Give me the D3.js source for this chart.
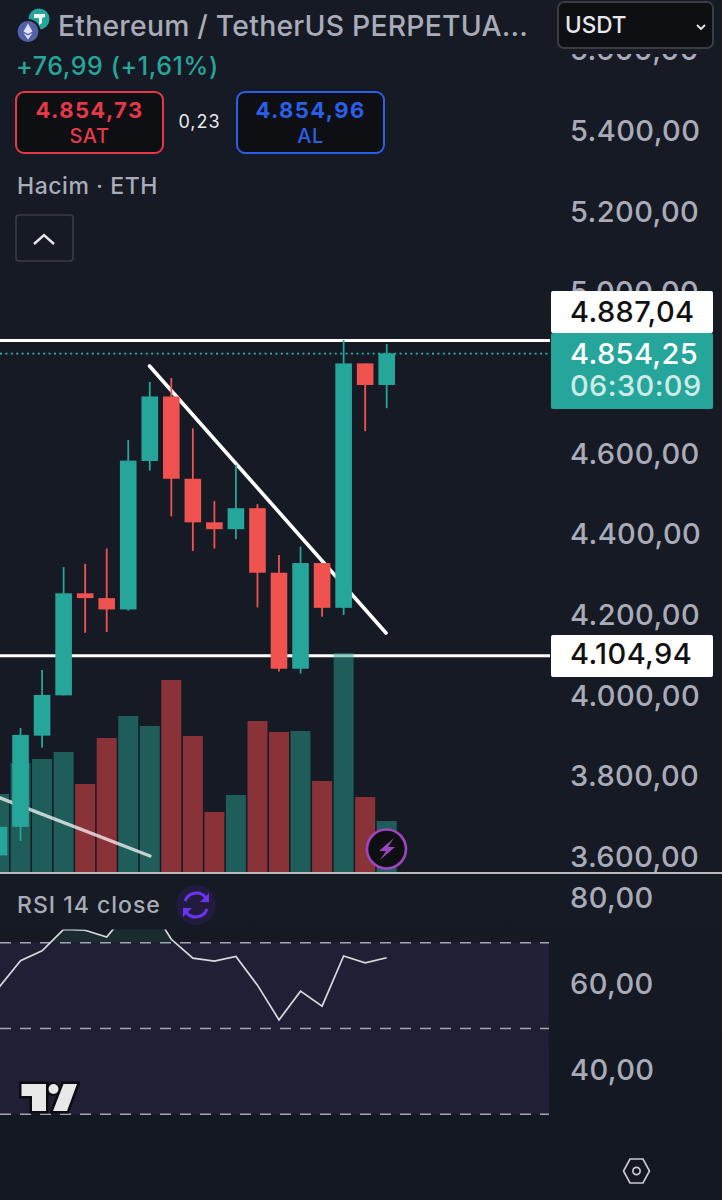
<!DOCTYPE html>
<html><head><meta charset="utf-8">
<script src="https://cdn.jsdelivr.net/npm/d3@7"></script>
<style>
html,body{margin:0;padding:0;background:#161a25}
svg{display:block;font-family:Inter,Roboto,sans-serif}
.ax{font-size:29px;font-weight:500;letter-spacing:0.4px}
</style></head><body><svg id="c" width="722" height="1200"></svg>
<script>
const opens  =[3610,3681,3907,4007,4260,4248,4220,4588,4748,4544,4436,4419,4471,4311,4073,4335,4224,4830,4776.5];
const closes =[3681,3909,4008,4260,4248,4220,4589,4748,4544,4436,4419,4471,4311,4073,4335,4224,4830,4776.5,4855];
const highs  =[3690,3926,4070,4325,4333,4371,4640,4784,4794,4669,4489,4578,4481,4355,4375.5,4335,4888,4830,4878];
const lows   =[3600,3646,3877,4007,4162,4164,4217,4564,4451,4365,4371,4394,4225,4066,4061,4202,4206,4662,4719];
const volumes=[78,109,113,120,88,134,156,146,192,136,60,77,151,140,141,91,219,75,51];
const rsi    =[59.6,65.8,68.1,73.1,72.9,71.3,77.4,78.8,70.8,66.4,65.7,66.8,60.1,52,58.7,55.2,66.9,65.3,66.5];
const priceTicks=[5600,5400,5200,5000,4600,4400,4200,4000,3800,3600];
const rsiTicks=[80,60,40];
const rsiLevels=[70,50,30];
const levelLines=[4887.04,4104.94];
const lastPrice=4854.25;
const fmt=d3.formatLocale({decimal:",",thousands:".",grouping:[3],currency:["",""]}).format(",.2f");

const svg=d3.select("#c");
const UP="#26a69a",DOWN="#f0534f",AXC="#a9acb8";
const x=d3.scaleLinear().domain([0,18]).range([-1,386.7]);
const y=d3.scaleLinear().domain([5400,3600]).range([133.5,859.5]);
const v=d3.scaleLinear().domain([0,219]).range([872,653]);
const r=d3.scaleLinear().domain([70,30]).range([942.7,1114.3]);
const idx=d3.range(opens.length);

svg.append("rect").attr("width",722).attr("height",1200).attr("fill","#161a25");
const g0=svg.append("linearGradient").attr("id","bot").attr("x1",0).attr("x2",0).attr("y1",0).attr("y2",1);
g0.append("stop").attr("offset",0).attr("stop-color","#161a25");
g0.append("stop").attr("offset",1).attr("stop-color","#131722");
svg.append("rect").attr("y",873).attr("width",722).attr("height",327).attr("fill","url(#bot)");
const defs=svg.append("defs");
defs.append("clipPath").attr("id","main").append("rect").attr("x",0).attr("y",0).attr("width",550).attr("height",872);
defs.append("clipPath").attr("id","rsiclip").append("rect").attr("x",0).attr("y",929.5).attr("width",550).attr("height",270);
defs.append("clipPath").attr("id","obclip").append("rect").attr("x",0).attr("y",929.5).attr("width",550).attr("height",r(70)-929.5);

const main=svg.append("g").attr("clip-path","url(#main)");
// levels
main.selectAll(".lvl").data(levelLines).join("line").attr("x1",0).attr("x2",550).attr("y1",d=>y(d)).attr("y2",d=>y(d)).attr("stroke","#fff").attr("stroke-width",3);
main.append("line").attr("x1",0).attr("x2",550).attr("y1",y(lastPrice)).attr("y2",y(lastPrice))
 .attr("stroke","#2cb5a8").attr("stroke-width",1.7).attr("stroke-dasharray","2 3.4");
// volume
main.selectAll(".vol").data(idx).join("rect").attr("class","vol")
 .attr("x",i=>x(i)-10).attr("width",20).attr("y",i=>v(volumes[i])).attr("height",i=>872-v(volumes[i]))
 .attr("fill",i=>closes[i]>=opens[i]?"#26a08f":"#fc4c4d").attr("fill-opacity",.5);
// lower left trend line
const trend2=[[-8,794.7],[150,856]];
main.append("line").attr("x1",trend2[0][0]).attr("y1",trend2[0][1]).attr("x2",trend2[1][0]).attr("y2",trend2[1][1])
 .attr("stroke","#ffffff").attr("stroke-opacity",.72).attr("stroke-width",3.4).attr("stroke-linecap","round");
// main trendline
main.append("line").attr("x1",149.5).attr("y1",366).attr("x2",386).attr("y2",633)
 .attr("stroke","#fff").attr("stroke-width",3.6).attr("stroke-linecap","round");
// candles
const col=i=>closes[i]>=opens[i]?UP:DOWN;
main.selectAll(".wick").data(idx).join("line").attr("class","wick")
 .attr("x1",i=>x(i)).attr("x2",i=>x(i)).attr("y1",i=>y(highs[i])).attr("y2",i=>y(lows[i])).attr("stroke",col).attr("stroke-width",1.8);
main.selectAll(".body").data(idx).join("rect").attr("class","body")
 .attr("x",i=>x(i)-8.3).attr("width",16.6).attr("y",i=>y(Math.max(opens[i],closes[i]))).attr("height",i=>Math.abs(y(opens[i])-y(closes[i]))).attr("fill",col);
// separator
svg.append("line").attr("x1",0).attr("x2",722).attr("y1",873).attr("y2",873).attr("stroke","#f0f0f0").attr("stroke-width",1.6);

// price axis
const yAxis=d3.axisRight(y).tickValues(priceTicks).tickFormat(fmt).tickSize(0).tickPadding(0);
const ax=svg.append("g").attr("transform","translate(570,-3)").call(yAxis);
ax.select(".domain").remove();
ax.selectAll("text").attr("class","ax").attr("fill",AXC).attr("x",0).attr("dy","0.35em").style("font-family","Inter");
// hide clipped top tick behind header
svg.append("rect").attr("x",552).attr("y",0).attr("width",170).attr("height",54).attr("fill","#161a25");

function tag(yy,h,fill){
 svg.append("rect").attr("x",551).attr("y",yy).attr("width",162).attr("height",h).attr("fill",fill).attr("rx",2);
}
function tagText(yy,fill,t){
 svg.append("text").attr("x",570).attr("y",yy).attr("class","ax").attr("fill",fill).text(t);
}
tag(291,42,"#fff");
tagText(322,"#111",fmt(levelLines[0]));
tag(333,76,UP);
tagText(364,"#fff",fmt(lastPrice));
tagText(396,"#cdebe7","06:30:09");
tag(635,42,"#fff");
tagText(664,"#111",fmt(levelLines[1]));

// RSI
const ob=d3.area().x(i=>x(i)).y0(r(70)).y1(i=>r(rsi[i]));
svg.append("path").attr("clip-path","url(#obclip)").datum(idx).attr("d",ob).attr("fill","#1b2c30");
svg.append("rect").attr("x",0).attr("y",r(70)).attr("width",549).attr("height",r(30)-r(70)).attr("fill","#211f35");
svg.selectAll(".rl2").data(rsiLevels).join("line").attr("x1",0).attr("x2",549).attr("y1",d=>r(d)).attr("y2",d=>r(d))
 .attr("stroke","#a3a6b0").attr("stroke-width",1.6).attr("stroke-dasharray","11 9");
svg.append("path").attr("clip-path","url(#rsiclip)").datum(idx)
 .attr("d",d3.line().x(i=>x(i)).y(i=>r(rsi[i]))).attr("fill","none").attr("stroke","#d8d8de").attr("stroke-width",1.7);
const rAxis=d3.axisRight(r).tickValues(rsiTicks).tickFormat(d=>fmt(d)).tickSize(0);
const ra=svg.append("g").attr("transform","translate(570,-2.5)").call(rAxis);
ra.select(".domain").remove();
ra.selectAll("text").attr("class","ax").attr("fill",AXC).attr("x",0).attr("dy","0.35em").style("font-family","Inter");

// header
svg.append("circle").attr("cx",39).attr("cy",19).attr("r",10.5).attr("fill","#26a69a");
svg.append("path").attr("d","M34 14h11v3l-3 1v5l-3 2v-7h-5z").attr("fill","#e8f5f3");
svg.append("circle").attr("cx",28).attr("cy",31.5).attr("r",12.5).attr("fill","#161a25");
svg.append("circle").attr("cx",28).attr("cy",31.5).attr("r",10.5).attr("fill","#5361a8");
svg.append("path").attr("d","M28 23.5l4.5 8-4.5 2.6-4.5-2.6zM23.5 33l4.5 2.6 4.5-2.6-4.5 6.5z").attr("fill","#dfe3f5");
const T=(px,py,fill,size,weight,ls,t,anchor)=>svg.append("text").attr("x",px).attr("y",py).attr("fill",fill).attr("font-size",size).attr("font-weight",weight).attr("letter-spacing",ls).attr("text-anchor",anchor||"start").text(t);
T(58,36,AXC,28.3,500,0.25,"Ethereum / TetherUS PERPETUA...");
T(16,75,UP,25,500,0.6,"+76,99 (+1,61%)");
svg.append("rect").attr("x",558).attr("y",2).attr("width",155).attr("height",46).attr("rx",6).attr("fill","#0e0f13").attr("stroke","#3a3c42").attr("stroke-width",2);
T(565,33,"#e8e8ec",22.5,500,0,"USDT");
svg.append("path").attr("d","M697 25l4 4 4-4").attr("fill","none").attr("stroke","#e8e8ec").attr("stroke-width",1.8);
function box(bx,w,c,val,lab){
 svg.append("rect").attr("x",bx).attr("y",92).attr("width",w).attr("height",61).attr("rx",8).attr("fill","#0e0f13").attr("stroke",c).attr("stroke-width",2);
 T(bx+w/2,118,c,22,700,1.4,val,"middle");
 T(bx+w/2,143,c,20,500,0.6,lab,"middle");
}
box(16,147,"#e5394a","4.854,73","SAT");
box(237,147,"#2b5fe8","4.854,96","AL");
T(199.5,128,"#e8e8ec",18,400,1,"0,23","middle");
T(17,194,AXC,23,500,0.55,"Hacim · ETH");
svg.append("rect").attr("x",16).attr("y",215).attr("width",57).attr("height",46).attr("rx",3).attr("fill","none").attr("stroke","#3a3d46").attr("stroke-width",1.6);
svg.append("path").attr("d","M34 244l10-9 10 9").attr("fill","none").attr("stroke","#e8e8ec").attr("stroke-width",2.4);

svg.append("circle").attr("cx",386.5).attr("cy",849).attr("r",19.5).attr("fill","#0e0f13").attr("stroke","#a045c0").attr("stroke-width",2.6);
svg.append("path").attr("d","M394 838l-15 13h7l-6 9 15-13h-7z").attr("fill","#a045c0");
T(17,913,AXC,23,500,1,"RSI 14 close");
svg.append("circle").attr("cx",196).attr("cy",905).attr("r",20).attr("fill","#211b3e");
svg.append("path").attr("d","M185 901a12 12 0 0 1 21-3M207 909a12 12 0 0 1-21 3").attr("fill","none").attr("stroke","#6a35f0").attr("stroke-width",3);
svg.append("path").attr("d","M209 893v9h-9zM183 917v-9h9z").attr("fill","#6a35f0");
// TV logo
const logo="M21.5 1084H46V1111H32V1096H21.5Z M63.5 1084H77L67 1111H53Z";
svg.append("path").attr("d",logo).attr("fill","#0c0c0e").attr("stroke","#0c0c0e").attr("stroke-width",5).attr("stroke-linejoin","miter");
svg.append("circle").attr("cx",53).attr("cy",1089).attr("r",7).attr("fill","#0c0c0e");
svg.append("path").attr("d",logo).attr("fill","#e8e8e8");
svg.append("circle").attr("cx",53.5).attr("cy",1089).attr("r",5).attr("fill","#e8e8e8");
svg.append("path").attr("d","M630 1159h13l6.5 12-6.5 12h-13l-6.5-12z").attr("fill","none").attr("stroke","#c8cad2").attr("stroke-width",1.7);
svg.append("circle").attr("cx",636.5).attr("cy",1171).attr("r",3.6).attr("fill","none").attr("stroke","#c8cad2").attr("stroke-width",1.7);
</script></body></html>
